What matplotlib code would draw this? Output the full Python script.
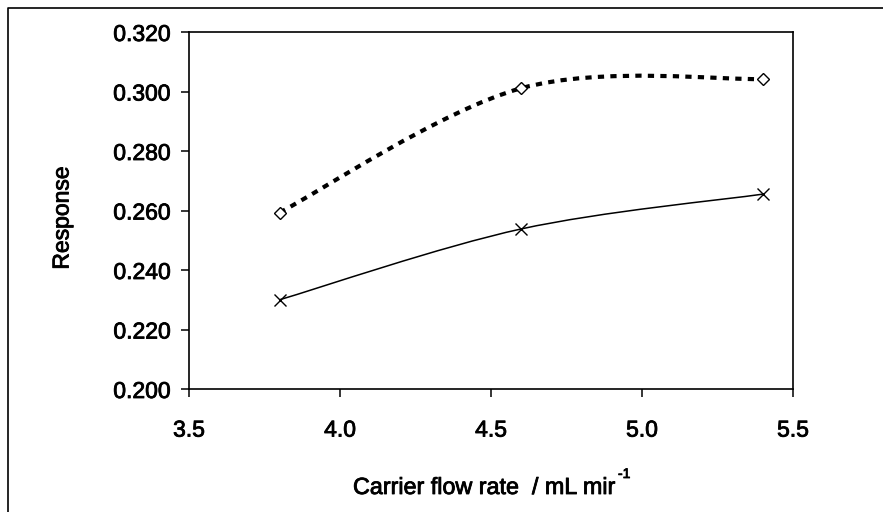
import matplotlib
matplotlib.use('Agg')
import matplotlib.pyplot as plt
import matplotlib.patheffects as pe
from matplotlib.path import Path
from matplotlib.patches import PathPatch
from matplotlib.ticker import MultipleLocator, FormatStrFormatter
import numpy as np

# data
flow_rate = [3.8, 4.6, 5.4]
response_diamond = [0.2593, 0.3011, 0.3042]
response_cross = [0.2300, 0.2538, 0.2655]

plt.rcParams['font.family'] = ['Liberation Sans', 'DejaVu Sans']

# slightly heavier text, like the original rendering
heavy = [pe.withStroke(linewidth=0.6, foreground='black')]


def smooth_path(xs, ys):
    # excel style smoothed line: cubic bezier, control points at 1/6 of neighbour difference
    pts = np.column_stack([xs, ys])
    n = len(pts)
    verts = [pts[0]]
    codes = [Path.MOVETO]
    for i in range(n - 1):
        p_prev = pts[i - 1] if i > 0 else pts[i]
        p_next = pts[i + 2] if i + 2 < n else pts[i + 1]
        c1 = pts[i] + (pts[i + 1] - p_prev) / 6.0
        c2 = pts[i + 1] - (p_next - pts[i]) / 6.0
        verts += [c1, c2, pts[i + 1]]
        codes += [Path.CURVE4] * 3
    return Path(verts, codes)


fig = plt.figure(figsize=(8.83, 5.12), dpi=100)
ax = fig.add_axes([189 / 883, 1 - 389 / 512, (793 - 189) / 883, (389 - 32) / 512])

# dashed smoothed series with open diamonds
ax.add_patch(PathPatch(smooth_path(flow_rate, response_diamond), fill=False,
                       edgecolor='black', lw=3.0, linestyle=(0, (1.5, 1.5)),
                       capstyle='butt'))
ax.plot(flow_rate, response_diamond, linestyle='none', marker='D', ms=6.5,
        mfc='white', mec='black', mew=1.0)

# solid smoothed series with crosses
ax.add_patch(PathPatch(smooth_path(flow_rate, response_cross), fill=False,
                       edgecolor='black', lw=1.1))
ax.plot(flow_rate, response_cross, linestyle='none', marker='x', ms=9,
        mec='black', mew=1.0)

ax.set_xlim(3.5, 5.5)
ax.set_ylim(0.200, 0.320)
ax.xaxis.set_major_locator(MultipleLocator(0.5))
ax.yaxis.set_major_locator(MultipleLocator(0.02))
ax.xaxis.set_major_formatter(FormatStrFormatter('%.1f'))
ax.yaxis.set_major_formatter(FormatStrFormatter('%.3f'))
ax.tick_params(axis='both', direction='out', length=5.8, width=1.1,
               labelsize=16.5, colors='black')
ax.tick_params(axis='y', pad=7.5)
ax.tick_params(axis='x', pad=15.5)
for s in ax.spines.values():
    s.set_linewidth(1.2)
for lab in ax.get_xticklabels() + ax.get_yticklabels():
    lab.set_path_effects(heavy)

fig.text(62 / 883, 1 - 218 / 512, 'Response', rotation=90, fontsize=16.5,
         ha='center', va='center', path_effects=heavy)
fig.text(353 / 883, 1 - 494 / 512, 'Carrier flow rate  / mL mir',
         fontsize=16.8, ha='left', va='baseline', path_effects=heavy)
fig.text(618 / 883, 1 - 467 / 512, '-1', fontsize=10, ha='left', va='top',
         path_effects=heavy)

# outer frame (top and left edges visible)
fig.add_artist(plt.Line2D([8 / 883, 8 / 883, 1.0], [0.0, 1 - 8 / 512, 1 - 8 / 512],
                          transform=fig.transFigure, color='black', lw=1.2))

fig.savefig('out.png', dpi=100)
